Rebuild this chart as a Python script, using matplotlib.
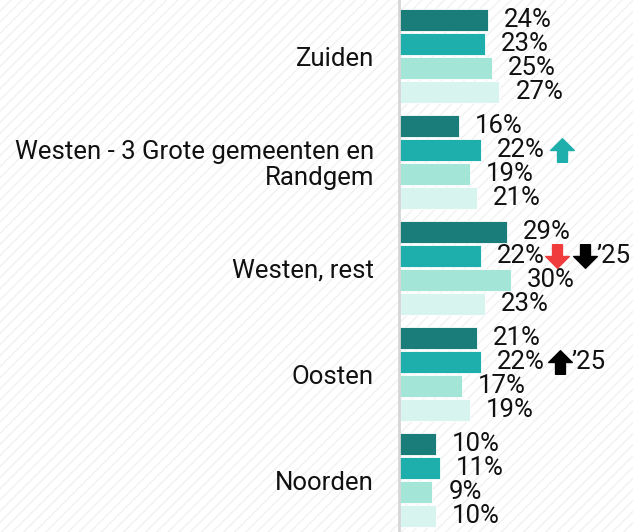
import matplotlib.pyplot as plt
from matplotlib.patches import Rectangle
from matplotlib.path import Path
from matplotlib.transforms import ScaledTranslation

plt.rcParams['font.family'] = ['Roboto', 'DejaVu Sans']

regions = ["Zuiden", "Westen - 3 Grote gemeenten en\nRandgem", "Westen, rest",
           "Oosten", "Noorden"]
series1 = [24, 16, 29, 21, 10]
series2 = [23, 22, 22, 22, 11]
series3 = [25, 19, 30, 17, 9]
series4 = [27, 21, 23, 19, 10]
colors = ["#1a7d79", "#1eaeab", "#a3e6d8", "#d8f4ee"]

# markers after the second-series label: (region index, kind, color, px offset, suffix)
markers = [
    (1, "up", "#1eaeab", 81, ""),
    (2, "down", "#f03c3c", 76, ""),
    (2, "down", "#000000", 104, "\u201925"),
    (3, "up", "#000000", 79, "\u201925"),
]

fig = plt.figure(figsize=(6.33, 5.32), dpi=100)
fig.patch.set_facecolor("white")
plt.rcParams['hatch.linewidth'] = 1.0
fig.patches.append(Rectangle((0, 0), 1, 1, transform=fig.transFigure,
                             facecolor="white", edgecolor="#f1f1f1", lw=0,
                             hatch="///", zorder=-5))

ax = fig.add_axes([399 / 633, 0, 1 - 399 / 633, 1])
ax.patch.set_alpha(0)

group_pitch = 106
bar_pitch = 24
first_center = 56
all_series = [series1, series2, series3, series4]
centers = [first_center + group_pitch * i for i in range(len(regions))]
fs = 18.5

for j, (vals, c) in enumerate(zip(all_series, colors)):
    ys = [cy + (j - 1.5) * bar_pitch for cy in centers]
    ax.barh(ys, vals, height=22, color=c, edgecolor="white", linewidth=0.6)
    for v, y in zip(vals, ys):
        ax.annotate(f"{v}%", (v, y), xytext=(16 * 0.72, 0), textcoords="offset points",
                    ha="left", va="center", fontsize=fs, color="#111111")

up = Path([(-1, 0), (0, 1), (1, 0), (0.42, 0), (0.42, -1), (-0.42, -1), (-0.42, 0), (-1, 0)],
          [Path.MOVETO] + [Path.LINETO] * 6 + [Path.CLOSEPOLY])
down = Path([(x, -y) for x, y in up.vertices], up.codes)

for idx, kind, col, dx, suffix in markers:
    y = centers[idx] - 0.5 * bar_pitch
    v = series2[idx]
    tr = ax.transData + ScaledTranslation(dx / 100, 0, fig.dpi_scale_trans)
    ax.plot([v], [y], marker=up if kind == "up" else down, markersize=17,
            color=col, transform=tr, clip_on=False)
    if suffix:
        tr2 = ax.transData + ScaledTranslation((dx + 12) / 100, 0, fig.dpi_scale_trans)
        ax.text(v, y, suffix, transform=tr2, ha="left", va="center",
                fontsize=fs, color="#111111", clip_on=False)

ax.set_xlim(0, (633 - 399) / 3.72)
ax.set_ylim(532, 0)
ax.set_yticks(centers)
ax.set_yticklabels(regions, fontsize=fs, color="#111111", linespacing=1.1)
ax.tick_params(axis="y", length=0, pad=18)
ax.set_xticks([])
for s in ["top", "right", "bottom"]:
    ax.spines[s].set_visible(False)
ax.spines["left"].set_color("#d6d6d6")
ax.spines["left"].set_linewidth(2)

fig.savefig("out.png", dpi=100)
